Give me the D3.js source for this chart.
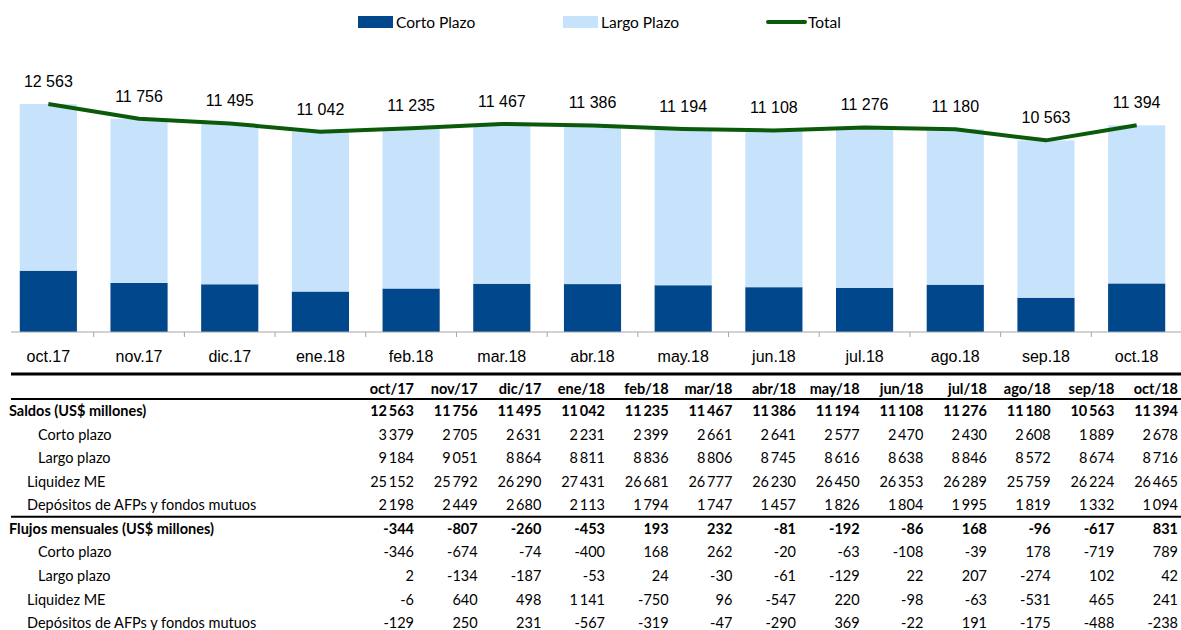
<!DOCTYPE html>
<html>
<head>
<meta charset="utf-8">
<style>
  body { margin: 0; background: #fff; }
  svg { display: block; }
</style>
</head>
<body>
<div class="container"></div>
<script src="https://d3js.org/d3.v7.min.js"></script>
<script>
// --- data ---
var months = ['oct.17', 'nov.17', 'dic.17', 'ene.18', 'feb.18', 'mar.18', 'abr.18',
              'may.18', 'jun.18', 'jul.18', 'ago.18', 'sep.18', 'oct.18'];
var tableMonths = ['oct/17', 'nov/17', 'dic/17', 'ene/18', 'feb/18', 'mar/18', 'abr/18',
                   'may/18', 'jun/18', 'jul/18', 'ago/18', 'sep/18', 'oct/18'];
var corto = [3379, 2705, 2631, 2231, 2399, 2661, 2641, 2577, 2470, 2430, 2608, 1889, 2678];
var largo = [9184, 9051, 8864, 8811, 8836, 8806, 8745, 8616, 8638, 8846, 8572, 8674, 8716];
var total = [12563, 11756, 11495, 11042, 11235, 11467, 11386, 11194, 11108, 11276, 11180, 10563, 11394];
var liquidez = [25152, 25792, 26290, 27431, 26681, 26777, 26230, 26450, 26353, 26289, 25759, 26224, 26465];
var depositos = [2198, 2449, 2680, 2113, 1794, 1747, 1457, 1826, 1804, 1995, 1819, 1332, 1094];
var flujoTotal = [-344, -807, -260, -453, 193, 232, -81, -192, -86, 168, -96, -617, 831];
var flujoCorto = [-346, -674, -74, -400, 168, 262, -20, -63, -108, -39, 178, -719, 789];
var flujoLargo = [2, -134, -187, -53, 24, -30, -61, -129, 22, 207, -274, 102, 42];
var flujoLiquidez = [-6, 640, 498, 1141, -750, 96, -547, 220, -98, -63, -531, 465, 241];
var flujoDepositos = [-129, 250, 231, -567, -319, -47, -290, 369, -22, 191, -175, -488, -238];

var tableRows = [
  { label: 'Saldos (US$ millones)', values: total, bold: true, indent: 0 },
  { label: 'Corto plazo', values: corto, indent: 2 },
  { label: 'Largo plazo', values: largo, indent: 2 },
  { label: 'Liquidez ME', values: liquidez, indent: 1 },
  { label: 'Depósitos de AFPs y fondos mutuos', values: depositos, indent: 1, rule: true },
  { label: 'Flujos mensuales (US$ millones)', values: flujoTotal, bold: true, indent: 0 },
  { label: 'Corto plazo', values: flujoCorto, indent: 2 },
  { label: 'Largo plazo', values: flujoLargo, indent: 2 },
  { label: 'Liquidez ME', values: flujoLiquidez, indent: 1 },
  { label: 'Depósitos de AFPs y fondos mutuos', values: flujoDepositos, indent: 1 }
];

var W = 1181, H = 630;
var darkBlue = '#00478c', lightBlue = '#c7e3fb', green = '#0a5a0a';

var chartLocale = d3.formatLocale({ decimal: ',', thousands: ' ', grouping: [3], currency: ['', ''], minus: '-' });
var tableLocale = d3.formatLocale({ decimal: ',', thousands: '\u2009', grouping: [3], currency: ['', ''], minus: '-' });
var fmtChart = chartLocale.format(',d');
var fmtTable = tableLocale.format(',d');

var svg = d3.select('.container').append('svg')
    .attr('width', W)
    .attr('height', H);

// --- chart ---
var x = d3.scaleBand()
    .domain(months)
    .range([3, 1182])
    .paddingInner(0.37)
    .paddingOuter(0.185);

var y = d3.scaleLinear()
    .domain([0, 14000])
    .range([332, 78]);

var stacked = d3.stack().keys(['corto', 'largo'])(months.map(function(m, i) {
  return { month: m, corto: corto[i], largo: largo[i] };
}));

var colors = { corto: darkBlue, largo: lightBlue };

svg.append('g').selectAll('g')
  .data(stacked)
  .join('g')
    .attr('fill', function(d) { return colors[d.key]; })
  .selectAll('rect')
  .data(function(d) { return d; })
  .join('rect')
    .attr('x', function(d) { return x(d.data.month); })
    .attr('y', function(d) { return y(d[1]); })
    .attr('width', x.bandwidth())
    .attr('height', function(d) { return y(d[0]) - y(d[1]); });

// x axis: ticks between the bars
var axis = svg.append('g');
axis.append('line')
    .attr('x1', 11).attr('x2', W)
    .attr('y1', y(0)).attr('y2', y(0))
    .attr('stroke', '#a6a6a6');
axis.selectAll('line.tick')
  .data(months.slice(1))
  .join('line')
    .attr('class', 'tick')
    .attr('x1', function(d) { return x(d) - x.step() * x.paddingInner() / 2; })
    .attr('x2', function(d) { return x(d) - x.step() * x.paddingInner() / 2; })
    .attr('y1', y(0)).attr('y2', y(0) + 5)
    .attr('stroke', '#a6a6a6');
axis.selectAll('text')
  .data(months)
  .join('text')
    .attr('x', function(d) { return x(d) + x.bandwidth() / 2; })
    .attr('y', 362)
    .attr('text-anchor', 'middle')
    .style('font', '16px "Liberation Sans", Arial, sans-serif')
    .attr('fill', '#000')
    .text(function(d) { return d; });

// total line
var line = d3.line()
    .x(function(d, i) { return x(months[i]) + x.bandwidth() / 2; })
    .y(function(d) { return y(d); });

svg.append('path')
    .datum(total)
    .attr('d', line)
    .attr('fill', 'none')
    .attr('stroke', green)
    .attr('stroke-width', 4)
    .attr('stroke-linejoin', 'round');

svg.append('g').selectAll('text')
  .data(total)
  .join('text')
    .attr('x', function(d, i) { return x(months[i]) + x.bandwidth() / 2; })
    .attr('y', function(d) { return y(d) - 17; })
    .attr('text-anchor', 'middle')
    .style('font', '16px "Liberation Sans", Arial, sans-serif')
    .text(function(d) { return fmtChart(d); });

// legend
var legend = svg.append('g').style('font', '15.5px Lato, sans-serif');
legend.append('rect').attr('x', 358).attr('y', 16).attr('width', 35).attr('height', 12).attr('fill', darkBlue);
legend.append('text').attr('x', 396).attr('y', 27.5).text('Corto Plazo');
legend.append('rect').attr('x', 563).attr('y', 16).attr('width', 35).attr('height', 12).attr('fill', lightBlue);
legend.append('text').attr('x', 601).attr('y', 27.5).text('Largo Plazo');
legend.append('line').attr('x1', 768).attr('x2', 805).attr('y1', 22).attr('y2', 22)
    .attr('stroke', green).attr('stroke-width', 4).attr('stroke-linecap', 'round');
legend.append('text').attr('x', 808).attr('y', 27.5).text('Total');

// --- table ---
var col = d3.scalePoint().domain(tableMonths).range([414, 1178]);
var row = d3.scaleLinear().domain([0, 9]).range([411, 623]);
var table = svg.append('g').style('font', '14.5px Lato, sans-serif');

table.append('line').attr('x1', 11).attr('x2', W).attr('y1', 374).attr('y2', 374)
    .attr('stroke', '#000').attr('stroke-width', 3);
table.append('line').attr('x1', 11).attr('x2', W).attr('y1', 399).attr('y2', 399)
    .attr('stroke', '#000').attr('stroke-width', 2);

table.selectAll('text.head')
  .data(tableMonths)
  .join('text')
    .attr('class', 'head')
    .attr('x', function(d) { return col(d); })
    .attr('y', 389)
    .attr('dy', '0.35em')
    .attr('text-anchor', 'end')
    .attr('font-weight', 'bold')
    .text(function(d) { return d; });

var rows = table.selectAll('g.row')
  .data(tableRows)
  .join('g')
    .attr('class', 'row')
    .attr('transform', function(d, i) { return 'translate(0,' + row(i) + ')'; })
    .attr('font-weight', function(d) { return d.bold ? 'bold' : 'normal'; });

rows.append('text')
    .attr('x', function(d) { return [9, 27, 38][d.indent]; })
    .attr('dy', '0.35em')
    .text(function(d) { return d.label; });

rows.selectAll('text.val')
  .data(function(d) { return d.values; })
  .join('text')
    .attr('class', 'val')
    .attr('x', function(d, i) { return col(tableMonths[i]); })
    .attr('dy', '0.35em')
    .attr('text-anchor', 'end')
    .text(function(d) { return fmtTable(d); });

rows.filter(function(d) { return d.rule; })
  .append('line')
    .attr('x1', 11).attr('x2', W)
    .attr('y1', 11.5).attr('y2', 11.5)
    .attr('stroke', '#000').attr('stroke-width', 2);
</script>
</body>
</html>
